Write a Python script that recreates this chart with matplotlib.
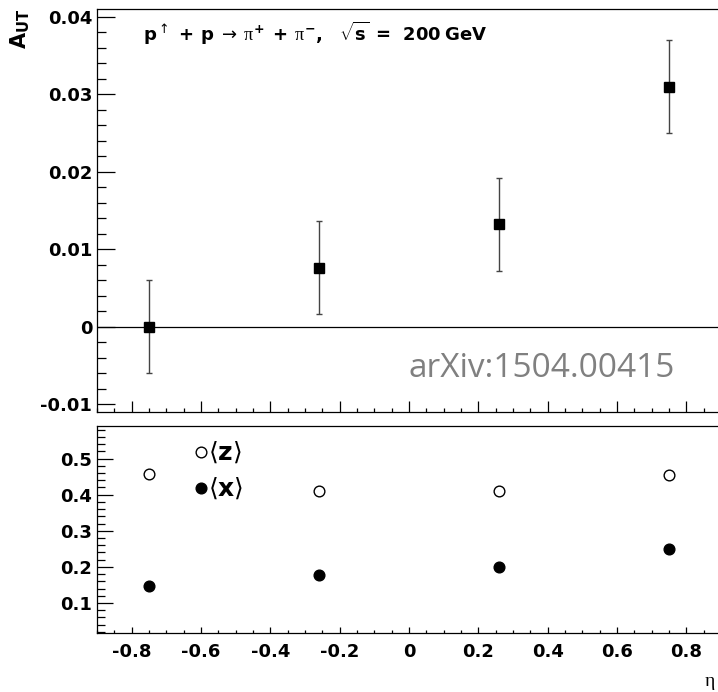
import matplotlib
matplotlib.use("Agg")
import matplotlib.pyplot as plt
from matplotlib.ticker import MultipleLocator, NullFormatter

# ---- data ----
eta = [-0.75, -0.26, 0.26, 0.75]
a_ut = [0.0, 0.0076, 0.0132, 0.031]
a_ut_err = [0.006, 0.006, 0.006, 0.006]
mean_z = [0.458, 0.411, 0.411, 0.453]
mean_x = [0.148, 0.178, 0.199, 0.249]

title_text = (r"$\mathbf{p}^{\uparrow}\mathbf{\ +\ p}\ \rightarrow\ \pi^{\mathbf{+}}\mathbf{\ +\ }"
              r"\pi^{\mathbf{-}}\mathbf{,\ \ \ }\sqrt{\mathbf{s}}\mathbf{\ =\ \ 200\ GeV}$")
watermark = "arXiv:1504.00415"

plt.rcParams['mathtext.fontset'] = 'custom'
plt.rcParams['mathtext.bf'] = 'DejaVu Sans:bold'
plt.rcParams['mathtext.rm'] = 'DejaVu Sans'
plt.rcParams['mathtext.it'] = 'Liberation Serif'
plt.rcParams['mathtext.sf'] = 'DejaVu Sans'

W, H = 718, 692
fig = plt.figure(figsize=(W / 100, H / 100), dpi=100)

def frac_box(l, r, t, b):
    return [l / W, 1 - b / H, (r - l) / W, (b - t) / H]

ax1 = fig.add_axes(frac_box(97, 721, 9, 412))
ax2 = fig.add_axes(frac_box(97, 721, 426, 633))

tick_font = dict(family='DejaVu Sans', weight='bold', size=13)

for ax in (ax1, ax2):
    for s in ax.spines.values():
        s.set_linewidth(0.9)
    ax.set_xlim(-0.9, 0.9)
    ax.xaxis.set_major_locator(MultipleLocator(0.2))
    ax.xaxis.set_minor_locator(MultipleLocator(0.05))

# ---- top panel ----
ax1.axhline(0, color='black', lw=0.9, zorder=1)
ax1.errorbar(eta, a_ut, yerr=a_ut_err, fmt='s', color='black', ms=7.4,
             ecolor='#444444', elinewidth=1.0, capsize=2, capthick=1.0, zorder=3)
ax1.set_ylim(-0.011, 0.041)
ax1.tick_params(axis='y', which='major', direction='in', length=13, width=0.9, pad=3.5)
ax1.tick_params(axis='y', which='minor', direction='in', length=6.5, width=0.9)
ax1.tick_params(axis='x', which='major', direction='in', length=7.7, width=0.9)
ax1.tick_params(axis='x', which='minor', direction='in', length=3.2, width=0.9)
ax1.xaxis.set_major_formatter(NullFormatter())
ax1.set_yticks([-0.01, 0, 0.01, 0.02, 0.03, 0.04])
ax1.set_yticklabels(['-0.01', '0', '0.01', '0.02', '0.03', '0.04'], fontdict=tick_font)
ax1.yaxis.set_minor_locator(MultipleLocator(0.002))

ax1.text(143 / W, 1 - 33 / H, title_text, transform=fig.transFigure,
         fontsize=13, ha='left', va='center')
ax1.text(408 / W, 1 - 377 / H, watermark, transform=fig.transFigure,
         fontsize=24, color='#808080', family='Open Sans', ha='left', va='baseline')

# ---- bottom panel ----
ax2.plot(eta, mean_z, 'o', mfc='white', mec='black', mew=1.0, ms=7.7, zorder=3)
ax2.plot(eta, mean_x, 'o', color='black', ms=7.7, zorder=3)
ax2.set_ylim(0.017, 0.59)
ax2.tick_params(axis='y', which='major', direction='in', length=11.5, width=0.9, pad=3.5)
ax2.tick_params(axis='y', which='minor', direction='in', length=5.8, width=0.9)
ax2.tick_params(axis='x', which='major', direction='in', length=4, width=0.9, pad=7)
ax2.tick_params(axis='x', which='minor', direction='in', length=2, width=0.9)
ax2.set_yticks([0.1, 0.2, 0.3, 0.4, 0.5])
ax2.set_yticklabels(['0.1', '0.2', '0.3', '0.4', '0.5'], fontdict=tick_font)
ax2.yaxis.set_minor_locator(MultipleLocator(0.02))
xt = [-0.8, -0.6, -0.4, -0.2, 0, 0.2, 0.4, 0.6, 0.8]
ax2.set_xticks(xt)
ax2.set_xticklabels(['-0.8', '-0.6', '-0.4', '-0.2', '0', '0.2', '0.4', '0.6', '0.8'], fontdict=tick_font)
ax2.xaxis.set_minor_locator(MultipleLocator(0.05))

# legend-like markers
ax2.plot([-0.6], [0.5175], 'o', mfc='white', mec='black', mew=1.0, ms=7.7, clip_on=False)
ax2.plot([-0.6], [0.4175], 'o', color='black', ms=7.7, clip_on=False)
ax2.text(-0.58, 0.5175, r"$\langle\mathbf{z}\rangle$", fontsize=18, ha='left', va='center')
ax2.text(-0.58, 0.4175, r"$\langle\mathbf{x}\rangle$", fontsize=18, ha='left', va='center')

# axis labels
fig.text(20 / W, 1 - 9 / H, r"$\mathbf{A_{UT}}$", rotation=90, ha='center', va='top', fontsize=15)
fig.text(710 / W, 1 - 682 / H, r"$\eta$", ha='center', va='center', fontsize=14)

fig.savefig("out.png", dpi=100)
